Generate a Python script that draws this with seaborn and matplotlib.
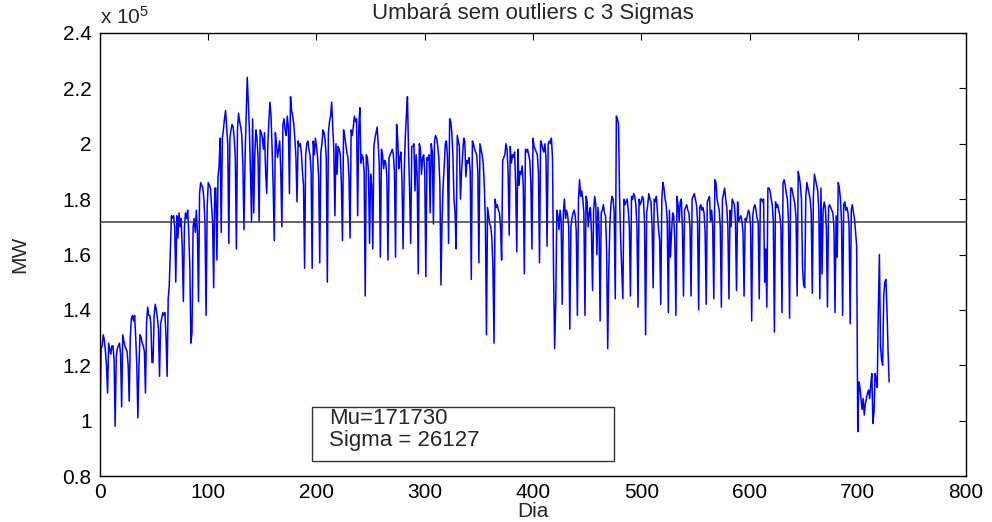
import numpy as np
import pandas as pd
import seaborn as sns
import matplotlib
matplotlib.use("Agg")
import matplotlib.pyplot as plt
from matplotlib.patches import Rectangle

# Carga diária (em unidades de 10^5 MW), uma linha por semana (dias 7k .. 7k+6)
semanas = [
    [0.99, 1.26, 1.27, 1.31, 1.29, 1.25, 1.20],
    [1.10, 1.28, 1.26, 1.24, 1.27, 1.27, 1.22],
    [0.98, 1.23, 1.26, 1.27, 1.28, 1.24, 1.05],
    [1.31, 1.29, 1.27, 1.26, 1.25, 1.20, 1.07],
    [1.30, 1.37, 1.38, 1.36, 1.38, 1.30, 1.20],
    [1.01, 1.20, 1.31, 1.30, 1.28, 1.27, 1.25],
    [1.10, 1.35, 1.41, 1.38, 1.38, 1.35, 1.21],
    [1.21, 1.38, 1.42, 1.40, 1.37, 1.33, 1.16],
    [1.35, 1.37, 1.39, 1.38, 1.39, 1.30, 1.16],
    [1.44, 1.49, 1.62, 1.74, 1.73, 1.74, 1.70],
    [1.50, 1.74, 1.66, 1.75, 1.70, 1.73, 1.62],
    [1.43, 1.70, 1.75, 1.73, 1.76, 1.68, 1.55],
    [1.28, 1.32, 1.70, 1.73, 1.68, 1.76, 1.68],
    [1.43, 1.82, 1.86, 1.85, 1.84, 1.80, 1.71],
    [1.38, 1.77, 1.86, 1.85, 1.84, 1.78, 1.72],
    [1.48, 1.84, 1.84, 1.58, 1.88, 1.92, 2.02],
    [1.68, 2.02, 2.05, 2.09, 2.12, 2.06, 2.00],
    [1.64, 2.02, 2.05, 2.07, 2.06, 2.02, 1.95],
    [1.62, 2.05, 2.11, 2.08, 2.06, 2.03, 1.92],
    [1.69, 1.95, 2.10, 2.24, 2.15, 2.05, 1.90],
    [1.72, 2.09, 1.75, 1.96, 2.05, 2.02, 1.95],
    [1.72, 2.05, 2.04, 2.02, 1.98, 2.04, 1.90],
    [1.82, 1.99, 2.08, 2.15, 2.10, 1.98, 1.84],
    [1.65, 2.04, 2.00, 1.95, 1.98, 2.01, 1.90],
    [1.70, 2.07, 2.09, 2.05, 2.03, 2.10, 2.06],
    [1.82, 2.17, 2.12, 2.10, 2.07, 2.02, 1.95],
    [1.79, 2.01, 1.99, 2.00, 1.97, 1.90, 1.85],
    [1.55, 1.96, 2.00, 2.01, 1.98, 1.96, 1.90],
    [1.55, 2.01, 1.96, 2.02, 1.99, 1.95, 1.88],
    [1.57, 1.97, 2.00, 2.05, 2.04, 2.01, 1.95],
    [1.50, 2.04, 2.08, 2.10, 2.15, 2.06, 1.98],
    [1.74, 2.00, 1.89, 1.99, 1.98, 1.96, 1.85],
    [1.65, 2.05, 2.03, 2.00, 1.97, 1.95, 1.88],
    [1.66, 2.05, 2.03, 2.06, 2.10, 2.08, 2.09],
    [1.74, 2.05, 2.13, 1.93, 1.96, 1.95, 1.90],
    [1.45, 1.96, 1.95, 1.90, 1.64, 1.89, 1.85],
    [1.62, 1.99, 2.02, 2.04, 2.06, 2.00, 1.92],
    [1.59, 1.98, 1.96, 1.91, 1.94, 1.93, 1.88],
    [1.58, 1.95, 1.96, 1.97, 1.98, 1.96, 1.90],
    [1.59, 2.07, 2.02, 1.91, 1.95, 1.97, 1.86],
    [1.62, 1.89, 2.02, 2.10, 2.17, 1.98, 1.83],
    [1.64, 1.99, 1.99, 2.00, 1.83, 1.96, 1.88],
    [1.53, 2.00, 1.98, 1.89, 1.95, 1.96, 1.90],
    [1.52, 1.95, 1.94, 1.96, 1.75, 2.00, 1.97],
    [1.71, 2.01, 2.03, 2.02, 1.99, 1.95, 1.85],
    [1.49, 1.73, 1.85, 1.92, 2.00, 2.01, 1.95],
    [1.64, 2.09, 2.08, 2.04, 1.96, 1.80, 1.75],
    [1.62, 2.03, 2.01, 1.99, 1.80, 1.90, 1.96],
    [2.02, 2.01, 1.88, 1.94, 1.93, 1.95, 1.90],
    [1.51, 2.01, 2.00, 1.98, 1.97, 1.96, 1.90],
    [1.57, 2.00, 1.98, 1.96, 1.93, 1.85, 1.72],
    [1.31, 1.77, 1.74, 1.71, 1.70, 1.66, 1.55],
    [1.28, 1.80, 1.77, 1.78, 1.76, 1.75, 1.70],
    [1.58, 1.94, 1.95, 1.96, 2.00, 1.98, 1.90],
    [1.67, 1.99, 1.93, 1.96, 1.95, 1.97, 1.85],
    [1.61, 1.98, 1.85, 1.90, 1.89, 1.92, 1.85],
    [1.53, 1.98, 1.97, 1.98, 1.96, 1.94, 1.86],
    [1.62, 2.02, 1.99, 1.98, 1.97, 1.96, 1.90],
    [1.57, 2.01, 2.00, 1.98, 1.97, 2.00, 1.95],
    [1.63, 2.00, 2.01, 2.00, 2.02, 1.95, 1.53],
    [1.26, 1.43, 1.76, 1.74, 1.69, 1.76, 1.72],
    [1.42, 1.75, 1.80, 1.73, 1.76, 1.74, 1.70],
    [1.33, 1.70, 1.73, 1.75, 1.76, 1.74, 1.68],
    [1.38, 1.80, 1.87, 1.81, 1.83, 1.80, 1.75],
    [1.38, 1.81, 1.79, 1.70, 1.75, 1.77, 1.68],
    [1.47, 1.76, 1.81, 1.78, 1.60, 1.77, 1.70],
    [1.36, 1.75, 1.76, 1.78, 1.75, 1.74, 1.62],
    [1.26, 1.54, 1.71, 1.78, 1.81, 1.80, 1.75],
    [1.44, 2.10, 2.09, 2.07, 1.80, 1.65, 1.54],
    [1.44, 1.80, 1.78, 1.79, 1.80, 1.76, 1.70],
    [1.45, 1.81, 1.80, 1.82, 1.81, 1.78, 1.70],
    [1.41, 1.80, 1.78, 1.79, 1.81, 1.80, 1.72],
    [1.31, 1.75, 1.78, 1.82, 1.80, 1.79, 1.70],
    [1.48, 1.80, 1.79, 1.81, 1.75, 1.69, 1.65],
    [1.42, 1.80, 1.86, 1.84, 1.80, 1.78, 1.72],
    [1.39, 1.76, 1.59, 1.68, 1.75, 1.74, 1.65],
    [1.38, 1.81, 1.78, 1.72, 1.79, 1.80, 1.70],
    [1.45, 1.76, 1.77, 1.78, 1.76, 1.75, 1.70],
    [1.45, 1.80, 1.81, 1.82, 1.80, 1.78, 1.72],
    [1.40, 1.77, 1.78, 1.76, 1.77, 1.75, 1.68],
    [1.42, 1.79, 1.80, 1.81, 1.72, 1.76, 1.70],
    [1.44, 1.87, 1.86, 1.80, 1.78, 1.76, 1.70],
    [1.41, 1.80, 1.82, 1.84, 1.80, 1.77, 1.70],
    [1.44, 1.76, 1.70, 1.80, 1.79, 1.78, 1.72],
    [1.47, 1.79, 1.72, 1.73, 1.74, 1.72, 1.68],
    [1.45, 1.73, 1.72, 1.74, 1.76, 1.75, 1.70],
    [1.36, 1.74, 1.77, 1.78, 1.76, 1.73, 1.72],
    [1.44, 1.80, 1.80, 1.79, 1.80, 1.50, 1.62],
    [1.41, 1.84, 1.84, 1.83, 1.80, 1.78, 1.72],
    [1.32, 1.79, 1.77, 1.78, 1.76, 1.74, 1.70],
    [1.39, 1.86, 1.87, 1.85, 1.82, 1.80, 1.72],
    [1.37, 1.84, 1.84, 1.82, 1.80, 1.78, 1.73],
    [1.45, 1.90, 1.88, 1.85, 1.80, 1.55, 1.49],
    [1.48, 1.81, 1.86, 1.84, 1.82, 1.80, 1.75],
    [1.46, 1.81, 1.89, 1.87, 1.85, 1.83, 1.76],
    [1.44, 1.84, 1.53, 1.76, 1.79, 1.77, 1.70],
    [1.41, 1.77, 1.78, 1.77, 1.76, 1.75, 1.70],
    [1.39, 1.74, 1.59, 1.86, 1.84, 1.80, 1.72],
    [1.38, 1.78, 1.79, 1.76, 1.77, 1.75, 1.70],
    [1.35, 1.76, 1.78, 1.75, 1.73, 1.68, 1.63],
    [0.96, 1.14, 1.12, 1.08, 1.04, 1.08, 1.02],
    [1.06, 1.08, 1.10, 1.11, 1.08, 1.13, 1.17],
    [0.99, 1.03, 1.17, 1.15, 1.12, 1.40, 1.60],
    [1.27, 1.22, 1.20, 1.45, 1.50, 1.51, 1.40],
    [1.25, 1.14],
]

MU = 171730
SIGMA = 26127
x_ticks = [0, 100, 200, 300, 400, 500, 600, 700, 800]
y_ticks = [0.8, 1.0, 1.2, 1.4, 1.6, 1.8, 2.0, 2.2, 2.4]

carga = [v for semana in semanas for v in semana]
df = pd.DataFrame({"Dia": np.arange(len(carga)), "MW": carga})

sns.set_style("white")
plt.rcParams["font.family"] = ["Liberation Sans", "DejaVu Sans"]
plt.rcParams["mathtext.fontset"] = "custom"
plt.rcParams["mathtext.rm"] = "Liberation Sans"
plt.rcParams["mathtext.it"] = "Liberation Sans"

FS = 15

fig = plt.figure(figsize=(9.92, 5.22), dpi=100)
ax = fig.add_axes([0.1008, 0.0881, 0.8730, 0.8487])

sns.lineplot(data=df, x="Dia", y="MW", color="#0000ff", linewidth=1.1,
             estimator=None, ax=ax)
ax.axhline(MU / 1e5, color="#3a3a3a", linewidth=1.1, zorder=3)

ax.set_xlim(0, 800)
ax.set_ylim(0.8, 2.4)
ax.set_xticks(x_ticks)
ax.set_yticks(y_ticks)
ax.set_xticklabels([f"{t:g}" for t in x_ticks])
ax.set_yticklabels([f"{t:g}" for t in y_ticks])
ax.tick_params(direction="in", top=True, right=True, length=5, width=0.8,
               labelsize=FS, colors="black")
ax.tick_params(axis="y", pad=6)
ax.tick_params(axis="x", pad=5)
for s in ax.spines.values():
    s.set_color("black")
    s.set_linewidth(1.0)

ax.set_xlabel("Dia", fontsize=FS, labelpad=0)
ax.set_ylabel("MW", fontsize=FS, labelpad=24)
ax.set_title("Umbará sem outliers c 3 Sigmas", fontsize=16, pad=10)
ax.text(0.0, 1.012, r"x 10$^{5}$", transform=ax.transAxes, fontsize=FS,
        ha="left", va="bottom")

# Caixa com média e desvio padrão
ax.add_patch(Rectangle((196, 0.855), 279, 0.195, facecolor="white",
                       edgecolor="#333333", linewidth=1.0, zorder=4))
ax.text(212, 1.007, f"Mu={MU}", fontsize=16, va="center", zorder=5)
ax.text(212, 0.929, f"Sigma = {SIGMA}", fontsize=16, va="center", zorder=5)

fig.savefig("out.png", dpi=100)
